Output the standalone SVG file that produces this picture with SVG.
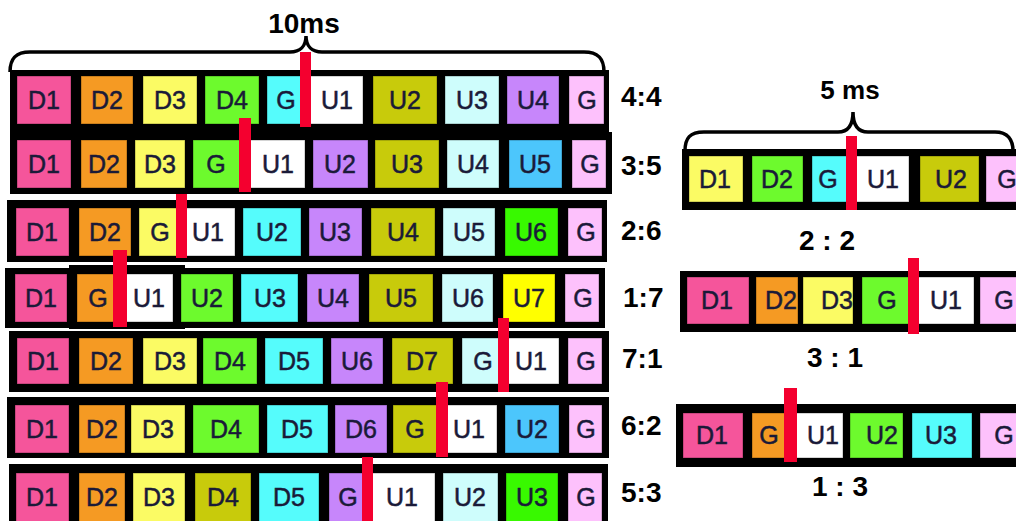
<svg xmlns="http://www.w3.org/2000/svg" width="1016" height="521" viewBox="0 0 1016 521">
<style>
.band{fill:#000}
.c{stroke:#000;stroke-opacity:0.35;stroke-width:1}
.pk{fill:#F5559B}.or{fill:#F59A23}.ye{fill:#FBFB64}.gr{fill:#6DFA2D}.cy{fill:#55FCFC}.wh{fill:#FFFFFF}
.ol{fill:#C8CB0B}.lc{fill:#CEFDFC}.pu{fill:#C786FB}.lp{fill:#FDC1FC}.sb{fill:#4CC6FC}.bg{fill:#38F900}.yy{fill:#FFFF00}
.t{font-family:"Liberation Sans",Arial,sans-serif;font-size:25px;fill:#1a1a38;stroke:#1a1a38;stroke-width:0.5;text-anchor:middle}
.lab{font-family:"Liberation Sans",Arial,sans-serif;font-size:28px;font-weight:bold;fill:#000}
.mid{text-anchor:middle}
.red{fill:#F4002F}
.brace{fill:none;stroke:#000;stroke-width:3.5}
</style>
<g id="brace10">
<path class="brace" d="M10,72 C10,58 16,52 30,52 L290,52 C300,52 306,46 306,36 C306,46 312,52 322,52 L584,52 C598,52 604,58 604,72"/>
<text class="lab mid" x="304" y="33">10ms</text>
</g>
<g id="row44">
<rect class="band" x="10" y="70" width="599" height="62"/>
<rect class="c pk" x="17" y="76" width="54" height="48"/><text class="t" x="44" y="109">D1</text>
<rect class="c or" x="81" y="76" width="52" height="48"/><text class="t" x="107" y="109">D2</text>
<rect class="c ye" x="143" y="76" width="54" height="48"/><text class="t" x="170" y="109">D3</text>
<rect class="c gr" x="205" y="76" width="54" height="48"/><text class="t" x="232" y="109">D4</text>
<rect class="c cy" x="267" y="76" width="39" height="48"/><text class="t" x="286" y="109">G</text>
<rect class="c wh" x="306" y="76" width="57" height="48"/><text class="t" x="337" y="109">U1</text>
<rect class="c ol" x="373" y="76" width="64" height="48"/><text class="t" x="405" y="109">U2</text>
<rect class="c lc" x="445" y="76" width="54" height="48"/><text class="t" x="472" y="109">U3</text>
<rect class="c pu" x="507" y="76" width="52" height="48"/><text class="t" x="533" y="109">U4</text>
<rect class="c lp" x="569" y="76" width="35" height="48"/><text class="t" x="587" y="109">G</text>
<text class="lab" x="621" y="106">4:4</text>
</g>
<g id="row35">
<rect class="band" x="10" y="132" width="602" height="62"/>
<rect class="c pk" x="17" y="140" width="54" height="48"/><text class="t" x="44" y="173">D1</text>
<rect class="c or" x="81" y="140" width="46" height="48"/><text class="t" x="104" y="173">D2</text>
<rect class="c ye" x="135" y="140" width="50" height="48"/><text class="t" x="160" y="173">D3</text>
<rect class="c gr" x="193" y="140" width="52" height="48"/><text class="t" x="216" y="173">G</text>
<rect class="c wh" x="245" y="140" width="60" height="48"/><text class="t" x="278" y="173">U1</text>
<rect class="c pu" x="313" y="140" width="55" height="48"/><text class="t" x="340" y="173">U2</text>
<rect class="c ol" x="375" y="140" width="64" height="48"/><text class="t" x="407" y="173">U3</text>
<rect class="c lc" x="447" y="140" width="52" height="48"/><text class="t" x="473" y="173">U4</text>
<rect class="c sb" x="509" y="140" width="53" height="48"/><text class="t" x="535" y="173">U5</text>
<rect class="c lp" x="572" y="140" width="34" height="48"/><text class="t" x="590" y="173">G</text>
<text class="lab" x="621" y="175">3:5</text>
</g>
<g id="row26">
<rect class="band" x="7" y="200" width="600" height="62"/>
<rect class="c pk" x="16" y="208" width="53" height="48"/><text class="t" x="42" y="241">D1</text>
<rect class="c or" x="79" y="208" width="52" height="48"/><text class="t" x="105" y="241">D2</text>
<rect class="c ye" x="139" y="208" width="42" height="48"/><text class="t" x="160" y="241">G</text>
<rect class="c wh" x="181" y="208" width="54" height="48"/><text class="t" x="208" y="241">U1</text>
<rect class="c cy" x="243" y="208" width="58" height="48"/><text class="t" x="272" y="241">U2</text>
<rect class="c pu" x="309" y="208" width="53" height="48"/><text class="t" x="335" y="241">U3</text>
<rect class="c ol" x="371" y="208" width="64" height="48"/><text class="t" x="403" y="241">U4</text>
<rect class="c lc" x="443" y="208" width="52" height="48"/><text class="t" x="469" y="241">U5</text>
<rect class="c bg" x="505" y="208" width="53" height="48"/><text class="t" x="531" y="241">U6</text>
<rect class="c lp" x="568" y="208" width="34" height="48"/><text class="t" x="586" y="241">G</text>
<text class="lab" x="621" y="240">2:6</text>
</g>
<g id="row17">
<rect class="band" x="69" y="265" width="116" height="64"/>
<rect class="band" x="5" y="268" width="600" height="60"/>
<rect class="c pk" x="15" y="274" width="52" height="48"/><text class="t" x="41" y="307">D1</text>
<rect class="c or" x="77" y="274" width="43" height="48"/><text class="t" x="98" y="307">G</text>
<rect class="c wh" x="120" y="274" width="53" height="48"/><text class="t" x="149" y="307">U1</text>
<rect class="c gr" x="181" y="274" width="52" height="48"/><text class="t" x="207" y="307">U2</text>
<rect class="c cy" x="241" y="274" width="57" height="48"/><text class="t" x="270" y="307">U3</text>
<rect class="c pu" x="307" y="274" width="52" height="48"/><text class="t" x="333" y="307">U4</text>
<rect class="c ol" x="369" y="274" width="64" height="48"/><text class="t" x="401" y="307">U5</text>
<rect class="c lc" x="442" y="274" width="51" height="48"/><text class="t" x="468" y="307">U6</text>
<rect class="c yy" x="503" y="274" width="52" height="48"/><text class="t" x="529" y="307">U7</text>
<rect class="c lp" x="565" y="274" width="34" height="48"/><text class="t" x="583" y="307">G</text>
<text class="lab" x="623" y="307">1:7</text>
</g>
<g id="row71">
<rect class="band" x="9" y="331" width="600" height="61"/>
<rect class="c pk" x="17" y="338" width="52" height="46"/><text class="t" x="43" y="370">D1</text>
<rect class="c or" x="79" y="338" width="54" height="46"/><text class="t" x="106" y="370">D2</text>
<rect class="c ye" x="143" y="338" width="54" height="46"/><text class="t" x="170" y="370">D3</text>
<rect class="c gr" x="203" y="338" width="54" height="46"/><text class="t" x="230" y="370">D4</text>
<rect class="c cy" x="265" y="338" width="58" height="46"/><text class="t" x="294" y="370">D5</text>
<rect class="c pu" x="331" y="338" width="52" height="46"/><text class="t" x="357" y="370">U6</text>
<rect class="c ol" x="392" y="338" width="61" height="46"/><text class="t" x="422" y="370">D7</text>
<rect class="c lc" x="462" y="338" width="41" height="46"/><text class="t" x="483" y="370">G</text>
<rect class="c wh" x="503" y="338" width="56" height="46"/><text class="t" x="531" y="370">U1</text>
<rect class="c lp" x="568" y="338" width="34" height="46"/><text class="t" x="586" y="370">G</text>
<text class="lab" x="622" y="368">7:1</text>
</g>
<g id="row62">
<rect class="band" x="7" y="397" width="602" height="61"/>
<rect class="c pk" x="15" y="405" width="54" height="48"/><text class="t" x="42" y="438">D1</text>
<rect class="c or" x="79" y="405" width="46" height="48"/><text class="t" x="102" y="438">D2</text>
<rect class="c ye" x="131" y="405" width="54" height="48"/><text class="t" x="158" y="438">D3</text>
<rect class="c gr" x="193" y="405" width="66" height="48"/><text class="t" x="226" y="438">D4</text>
<rect class="c cy" x="267" y="405" width="61" height="48"/><text class="t" x="297" y="438">D5</text>
<rect class="c pu" x="335" y="405" width="52" height="48"/><text class="t" x="361" y="438">D6</text>
<rect class="c ol" x="393" y="405" width="49" height="48"/><text class="t" x="415" y="438">G</text>
<rect class="c wh" x="442" y="405" width="55" height="48"/><text class="t" x="469" y="438">U1</text>
<rect class="c sb" x="505" y="405" width="54" height="48"/><text class="t" x="532" y="438">U2</text>
<rect class="c lp" x="569" y="405" width="33" height="48"/><text class="t" x="586" y="438">G</text>
<text class="lab" x="621" y="435">6:2</text>
</g>
<g id="row53">
<rect class="band" x="9" y="464" width="599" height="60"/>
<rect class="c pk" x="16" y="473" width="53" height="50"/><text class="t" x="42" y="506">D1</text>
<rect class="c or" x="79" y="473" width="46" height="50"/><text class="t" x="102" y="506">D2</text>
<rect class="c ye" x="133" y="473" width="52" height="50"/><text class="t" x="159" y="506">D3</text>
<rect class="c ol" x="195" y="473" width="56" height="50"/><text class="t" x="223" y="506">D4</text>
<rect class="c cy" x="259" y="473" width="60" height="50"/><text class="t" x="289" y="506">D5</text>
<rect class="c pu" x="329" y="473" width="38" height="50"/><text class="t" x="348" y="506">G</text>
<rect class="c wh" x="367" y="473" width="68" height="50"/><text class="t" x="402" y="506">U1</text>
<rect class="c lc" x="443" y="473" width="55" height="50"/><text class="t" x="470" y="506">U2</text>
<rect class="c bg" x="506" y="473" width="52" height="50"/><text class="t" x="532" y="506">U3</text>
<rect class="c lp" x="568" y="473" width="34" height="50"/><text class="t" x="586" y="506">G</text>
<text class="lab" x="621" y="502">5:3</text>
</g>
<g id="brace5">
<path class="brace" d="M685,151 C685,138 690,132 704,132 L838,132 C848,132 853,126 853,112 C853,126 858,132 868,132 L995,132 C1008,132 1013,140 1013,151"/>
<text class="lab mid" x="850" y="99" style="font-size:26px">5 ms</text>
</g>
<g id="row22">
<rect class="band" x="682" y="149" width="340" height="61"/>
<rect class="c ye" x="689" y="156" width="54" height="46"/><text class="t" x="715" y="188">D1</text>
<rect class="c gr" x="752" y="156" width="51" height="46"/><text class="t" x="777" y="188">D2</text>
<rect class="c cy" x="812" y="156" width="39" height="46"/><text class="t" x="828" y="188">G</text>
<rect class="c wh" x="851" y="156" width="58" height="46"/><text class="t" x="883" y="188">U1</text>
<rect class="c ol" x="920" y="156" width="59" height="46"/><text class="t" x="951" y="188">U2</text>
<rect class="c lp" x="986" y="156" width="40" height="46"/><text class="t" x="1007" y="188">G</text>
<text class="lab mid" x="827" y="250">2 : 2</text>
</g>
<g id="row31">
<rect class="band" x="680" y="271" width="340" height="61"/>
<rect class="c pk" x="687" y="277" width="62" height="47"/><text class="t" x="717" y="309">D1</text>
<rect class="c or" x="756" y="277" width="42" height="47"/><text class="t" x="781" y="309">D2</text>
<rect class="c ye" x="803" y="277" width="50" height="47"/><text class="t" x="837" y="309">D3</text>
<rect class="c gr" x="862" y="277" width="51" height="47"/><text class="t" x="887" y="309">G</text>
<rect class="c wh" x="913" y="277" width="61" height="47"/><text class="t" x="946" y="309">U1</text>
<rect class="c lp" x="980" y="277" width="40" height="47"/><text class="t" x="1004" y="309">G</text>
<text class="lab mid" x="835" y="367">3 : 1</text>
</g>
<g id="row13">
<rect class="band" x="676" y="404" width="344" height="63"/>
<rect class="c pk" x="683" y="413" width="60" height="45"/><text class="t" x="712" y="444">D1</text>
<rect class="c or" x="752" y="413" width="38" height="45"/><text class="t" x="769" y="444">G</text>
<rect class="c wh" x="790" y="413" width="53" height="45"/><text class="t" x="823" y="444">U1</text>
<rect class="c gr" x="850" y="413" width="53" height="45"/><text class="t" x="882" y="444">U2</text>
<rect class="c cy" x="912" y="413" width="60" height="45"/><text class="t" x="941" y="444">U3</text>
<rect class="c lp" x="980" y="413" width="40" height="45"/><text class="t" x="1004" y="444">G</text>
<text class="lab mid" x="840" y="496">1 : 3</text>
</g>
<g id="connectors">
<rect class="red" x="300" y="52" width="11" height="75"/>
<rect class="red" x="239" y="118" width="12" height="74"/>
<rect class="red" x="176" y="194" width="11" height="64"/>
<rect class="red" x="113" y="250" width="14" height="77"/>
<rect class="red" x="498" y="318" width="11" height="74"/>
<rect class="red" x="436" y="382" width="12" height="75"/>
<rect class="red" x="362" y="457" width="11" height="64"/>
<rect class="red" x="846" y="136" width="11" height="74"/>
<rect class="red" x="908" y="258" width="11" height="76"/>
<rect class="red" x="784" y="388" width="13" height="74"/>
</g>
</svg>
